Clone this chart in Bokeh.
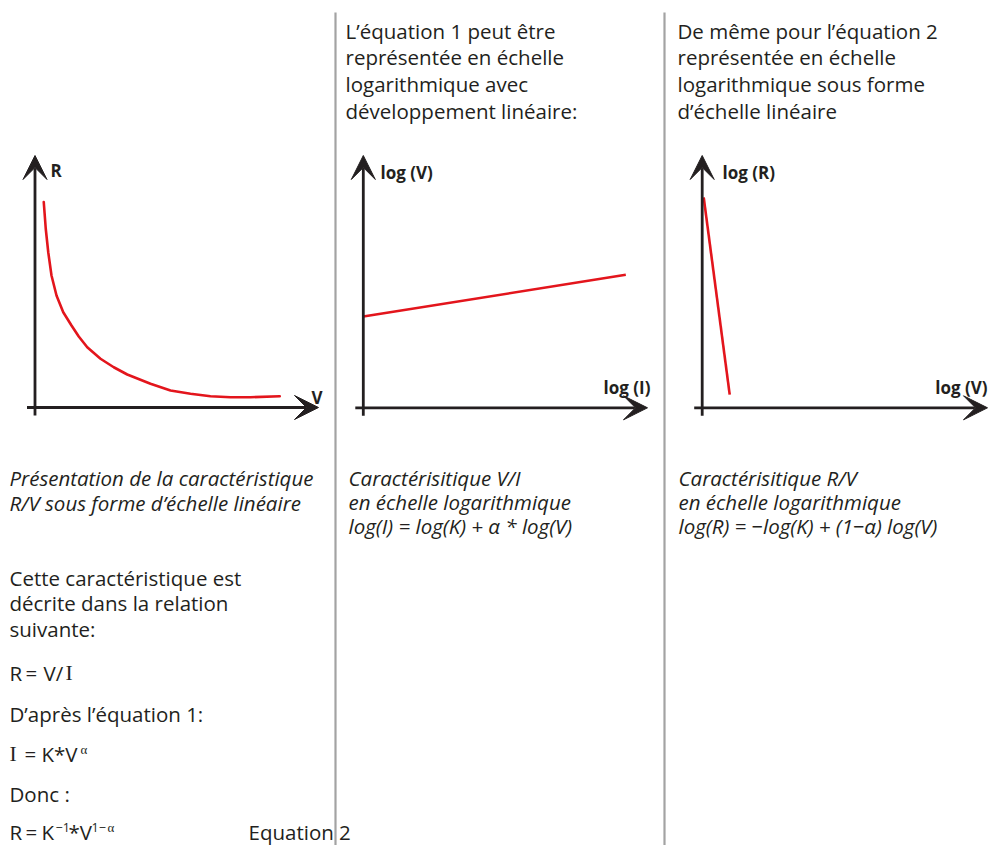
from bokeh.plotting import figure
from bokeh.models import Range1d, Arrow, VeeHead
from bokeh.core.properties import value
from bokeh.embed import file_html
from bokeh.resources import INLINE

W, H = 989, 845
INK = "#231f20"
RED = "#e3151c"
GREY = "#a3a3a3"
SANS = "Open Sans"
SERIF = "Liberation Serif"
FS = 20.5

# ---- data (arbitrary units) ----
# Panel 1: R as a function of V, linear scale
v_lin = [0.35, 0.43, 0.53, 0.66, 0.86, 1.13, 1.46, 1.75, 2.09, 2.62,
         3.15, 3.69, 4.62, 5.42, 6.22, 7.02, 7.82, 8.62, 9.79]
r_lin = [8.22, 7.15, 6.21, 5.28, 4.48, 3.81, 3.28, 2.84, 2.41, 1.95,
         1.61, 1.32, 0.95, 0.68, 0.55, 0.45, 0.41, 0.41, 0.45]

# Panel 2: log(V) versus log(I)
log_i = [0.0, 10.5]
log_v_p2 = [3.65, 5.32]

# Panel 3: log(R) versus log(V)
log_v_p3 = [0.06, 1.10]
log_r_p3 = [8.42, 0.53]

# ---- texts ----
head_p2 = ["L\u2019\u00e9quation 1 peut \u00eatre",
           "repr\u00e9sent\u00e9e en \u00e9chelle",
           "logarithmique avec",
           "d\u00e9veloppement lin\u00e9aire:"]
head_p3 = ["De m\u00eame pour l\u2019\u00e9quation 2",
           "repr\u00e9sent\u00e9e en \u00e9chelle",
           "logarithmique sous forme",
           "d\u2019\u00e9chelle lin\u00e9aire"]
cap_p1 = ["Pr\u00e9sentation de la caract\u00e9ristique",
          "R/V sous forme d\u2019\u00e9chelle lin\u00e9aire"]
cap_p2 = ["Caract\u00e9risitique V/I",
          "en \u00e9chelle logarithmique",
          "log(I) = log(K) + \u03b1 * log(V)"]
cap_p3 = ["Caract\u00e9risitique R/V",
          "en \u00e9chelle logarithmique",
          "log(R) = \u2212log(K) + (1\u2212\u03b1) log(V)"]
body_p1 = ["Cette caract\u00e9ristique est",
           "d\u00e9crite dans la relation",
           "suivante:"]

p = figure(width=W, height=H, output_backend="svg", toolbar_location=None,
           title=None, x_range=Range1d(0, W), y_range=Range1d(H, 0),
           min_border=0, outline_line_color=None, background_fill_color="white")
p.axis.visible = False
p.grid.visible = False

# panel origins in canvas pixels and one shared unit size
UNIT = 25.0
origins = {"p1": (34.5, 407.0), "p2": (362.8, 407.3), "p3": (701.7, 407.3)}
for key, (x0, y0) in origins.items():
    p.extra_x_ranges[key] = Range1d(-x0 / UNIT, (W - x0) / UNIT)
    p.extra_y_ranges[key] = Range1d((y0 - H) / UNIT, y0 / UNIT)

# separators between the three columns
for xs in (335.0, 664.0):
    p.segment(x0=xs, y0=12, x1=xs, y1=H, line_color=GREY, line_width=2.2)

# arrowed axes for each panel
def axes(x0, y0, x_tip):
    for xs, ys, xe, ye in ((x0, y0 + 8, x0, 155), (x0 - 8, y0, x_tip, y0)):
        p.add_layout(Arrow(x_start=xs, y_start=ys, x_end=xe, y_end=ye,
                           line_color=INK, line_width=2.8,
                           end=VeeHead(size=24, fill_color=INK, line_color=INK,
                                       line_width=1)))

axes(34.5, 407.0, 318)
axes(362.8, 407.3, 647)
axes(701.7, 407.3, 987)

# curves
p.line(v_lin, r_lin, x_range_name="p1", y_range_name="p1",
       line_color=RED, line_width=2.6, line_join="round", line_cap="round")
p.line(log_i, log_v_p2, x_range_name="p2", y_range_name="p2",
       line_color=RED, line_width=2.6)
p.line(log_v_p3, log_r_p3, x_range_name="p3", y_range_name="p3",
       line_color=RED, line_width=2.6)

def txt(x, y, s, size=FS, style="normal", font=SANS, align="left", color=INK):
    p.text(x=[x], y=[y], text=[s], text_font=value(font), text_font_size=f"{size}px",
           text_font_style=style, text_color=color, text_align=align,
           text_baseline="alphabetic")

# axis labels
txt(50, 170, "R", 17, "bold")
txt(322, 397, "V", 17, "bold", align="right")
txt(380, 171.5, "log (V)", 17, "bold")
txt(650, 386.5, "log (I)", 17, "bold", align="right")
txt(722, 171.5, "log (R)", 17, "bold")
txt(987, 386.5, "log (V)", 17, "bold", align="right")

# headings above panels 2 and 3
for i, s in enumerate(head_p2):
    txt(345, 30 + i * 26.7, s)
for i, s in enumerate(head_p3):
    txt(677, 30 + i * 26.7, s)

# italic captions under panels
for i, s in enumerate(cap_p1):
    txt(9, 477 + i * 25, s, style="italic")
for i, s in enumerate(cap_p2):
    txt(348, 477 + i * 24.3, s, style="italic")
for i, s in enumerate(cap_p3):
    txt(678, 477 + i * 24.3, s, style="italic")

# derivation text in column 1
for i, s in enumerate(body_p1):
    txt(9, 577 + i * 25.8, s)

txt(9, 672, "R")
txt(25, 672, "=")
txt(43, 672, "V/")
txt(65, 672, "I", 21.5, font=SERIF)

txt(9, 713, "D\u2019apr\u00e8s l\u2019\u00e9quation 1:")

txt(9, 753, "I", 21.5, font=SERIF)
txt(24, 753, "=")
txt(41, 753, "K*V")
txt(80, 749, "\u03b1", 13, font=SERIF)

txt(9, 793, "Donc :")

LAST = 831
txt(9, LAST, "R")
txt(25, LAST, "=")
txt(41, LAST, "K")
txt(55, LAST - 4, "\u22121", 12.5)
txt(68, LAST, "*V")
txt(91, LAST - 4, "1\u2212", 12.5)
txt(107, LAST - 4, "\u03b1", 13, font=SERIF)
txt(248, LAST, "Equation 2")

open("out.html", "w").write(file_html(p, INLINE))
